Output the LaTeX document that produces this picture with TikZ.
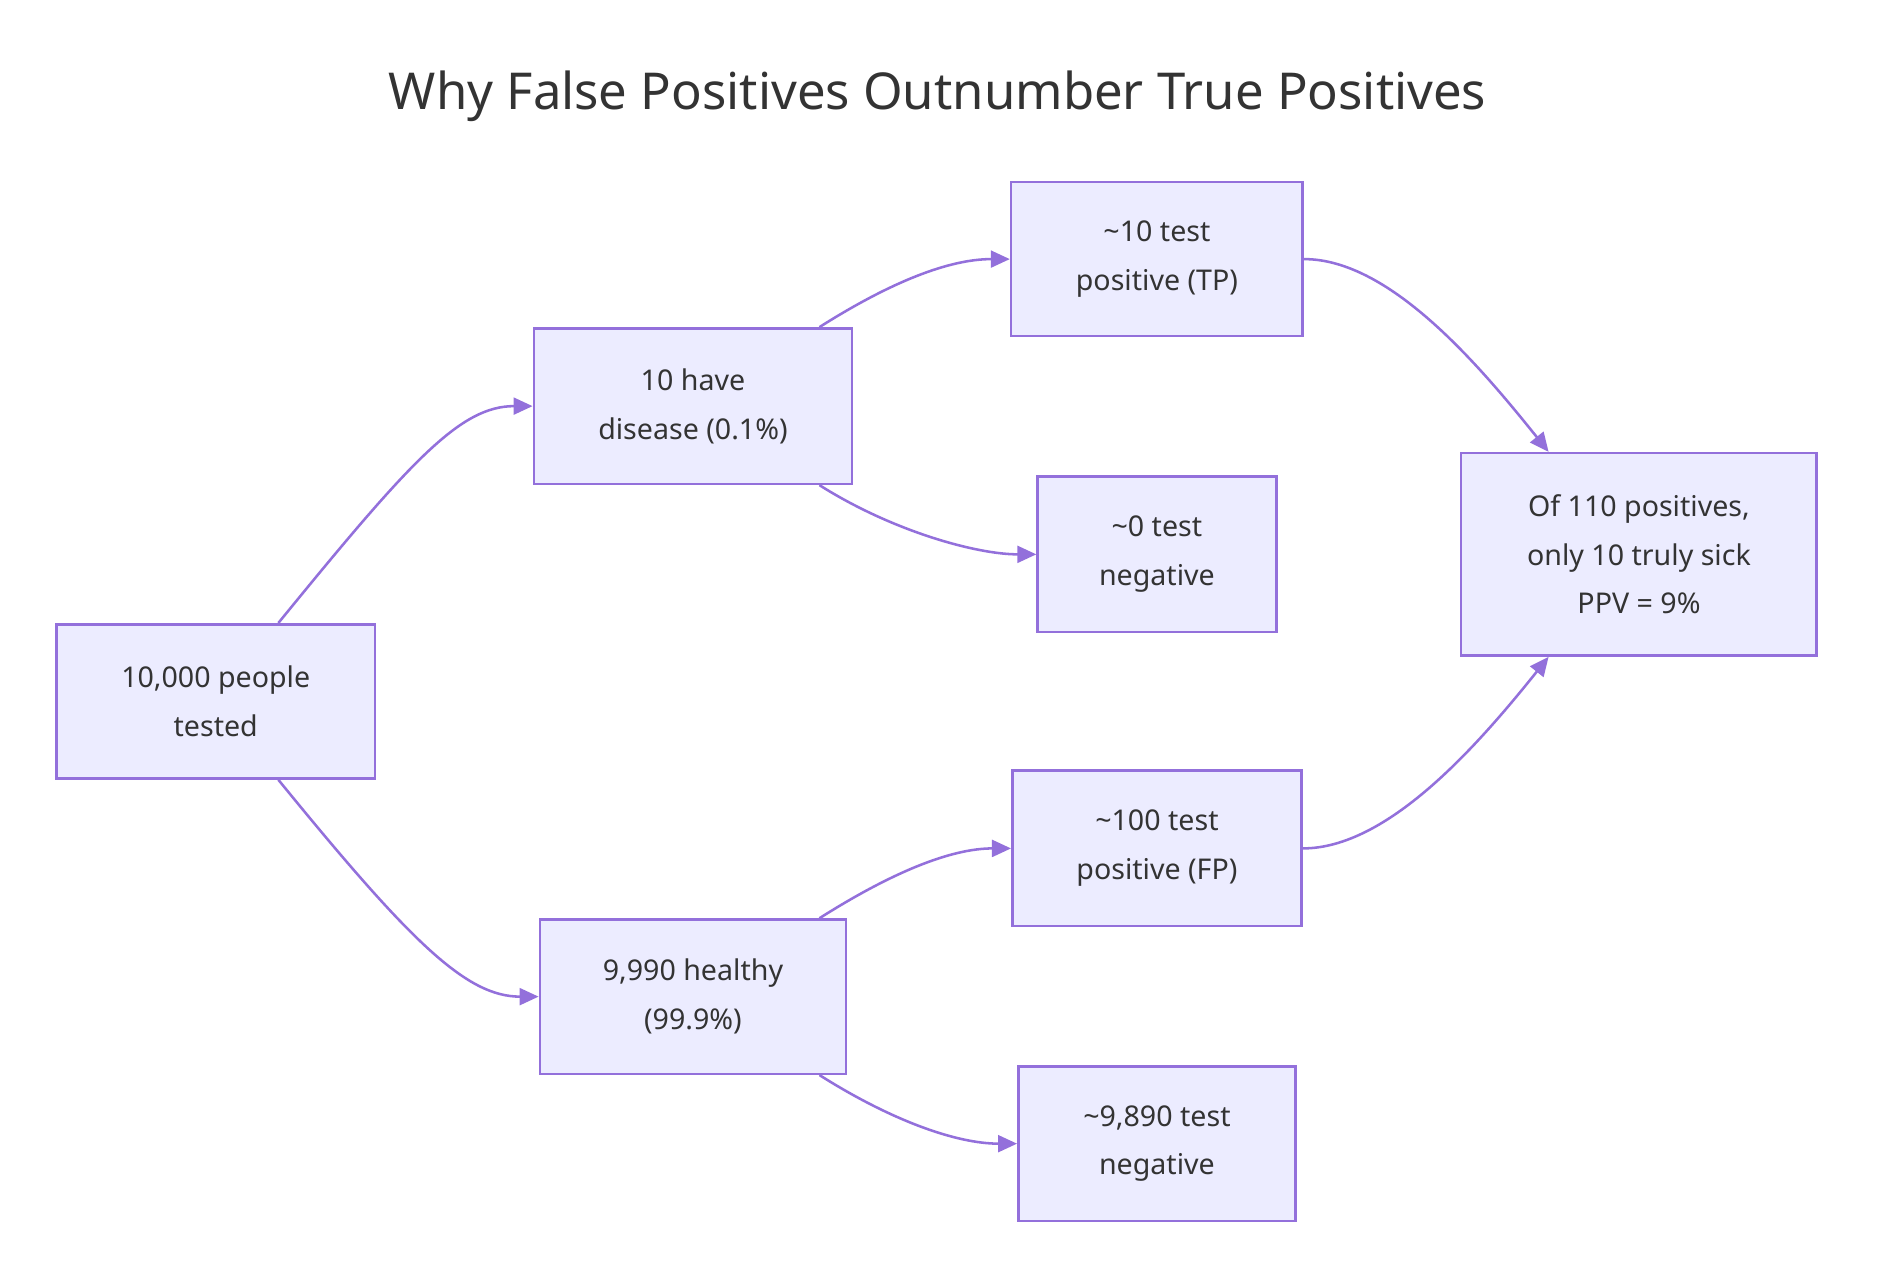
\documentclass[tikz,border=0pt]{standalone}
\usepackage{fontspec}
\setmainfont{Noto Sans}
\usetikzlibrary{arrows.meta,calc}
\definecolor{bfill}{HTML}{ECECFF}
\definecolor{bline}{HTML}{9370DB}
\definecolor{txt}{HTML}{333333}
\begin{document}
\begin{tikzpicture}[x=0.02cm,y=-0.02cm,
  box/.style={draw=bline,fill=bfill,line width=1.2pt,text=txt,align=center,
    font=\fontsize{13.5pt}{23pt}\selectfont,inner sep=0pt},
  edge/.style={draw=bline,line width=1.2pt,-{Triangle[length=9pt,width=8pt]}}]
\useasboundingbox (0,0) rectangle (1560,1064);
\node[text=txt,font=\fontsize{24pt}{28pt}\selectfont] (title) at (778,80) {Why False Positives Outnumber True Positives};
\node[box,minimum width=264*0.02cm,minimum height=128*0.02cm] (A) at (179,582) {10,000 people\\tested};
\node[box,minimum width=264*0.02cm,minimum height=129*0.02cm] (B) at (575,337) {10 have\\disease (0.1\%)};
\node[box,minimum width=254*0.02cm,minimum height=128*0.02cm] (C) at (575,827) {9,990 healthy\\(99.9\%)};
\node[box,minimum width=242*0.02cm,minimum height=128*0.02cm] (D) at (960,215) {\textasciitilde10 test\\positive (TP)};
\node[box,minimum width=198*0.02cm,minimum height=129*0.02cm] (E) at (960,460) {\textasciitilde0 test\\negative};
\node[box,minimum width=240*0.02cm,minimum height=129*0.02cm] (F) at (960,704) {\textasciitilde100 test\\positive (FP)};
\node[box,minimum width=230*0.02cm,minimum height=128*0.02cm] (G) at (960,949) {\textasciitilde9,890 test\\negative};
\node[box,minimum width=295*0.02cm,minimum height=168*0.02cm] (H) at (1360,460) {Of 110 positives,\\only 10 truly sick\\PPV = 9\%};
\path[edge] ([xshift=1.04cm]A.north) .. controls +(110,-135) and +(-60,0) .. (B.west);
\path[edge] ([xshift=1.04cm]A.south) .. controls +(110,135) and +(-60,0) .. (C.west);
\path[edge] ([xshift=2.1cm]B.north) .. controls +(60,-38) and +(-50,0) .. (D.west);
\path[edge] ([xshift=2.1cm]B.south) .. controls +(60,38) and +(-50,0) .. (E.west);
\path[edge] ([xshift=2.1cm]C.north) .. controls +(60,-38) and +(-50,0) .. (F.west);
\path[edge] ([xshift=2.1cm]C.south) .. controls +(60,38) and +(-50,0) .. (G.west);
\path[edge] (D.east) .. controls +(70,0) and +(-60,-75) .. ([xshift=-1.5cm]H.north);
\path[edge] (F.east) .. controls +(70,0) and +(-60,75) .. ([xshift=-1.5cm]H.south);
\end{tikzpicture}
\end{document}
